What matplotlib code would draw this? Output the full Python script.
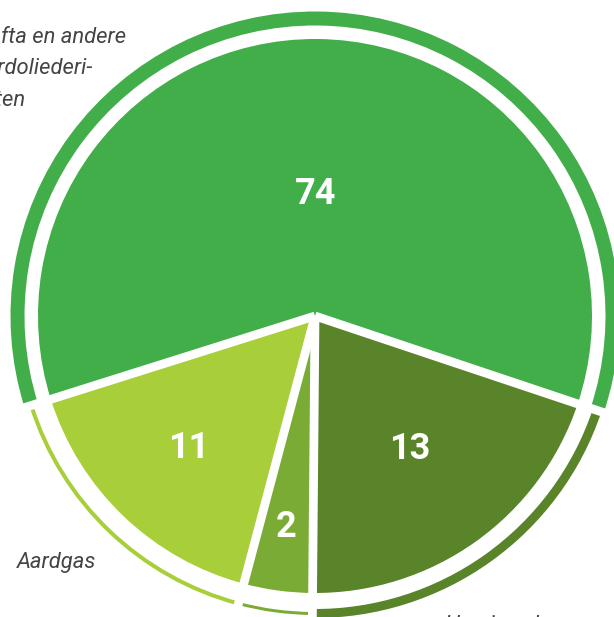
import numpy as np
import matplotlib
matplotlib.use("Agg")
import matplotlib.pyplot as plt
from matplotlib.patches import Wedge

# Gegevens (volgorde tegen de klok in, vanaf rechts)
categorieen = ["Nafta en andere aardoliederivaten", "Aardgas", "Overige", "Hernieuwbare energie"]
waarden = [74, 11, 2, 13]
aandeel_hoek = [60, 16, 4, 20]   # geschatte hoekverdeling zoals getekend

kleuren = ["#41ae4a", "#a8ce39", "#7aab35", "#5a8429"]
ring_breedte = [14, 4, 3, 9]
label_afstand = [0.44, 0.66, 0.77, 0.59]

W, H = 614, 617
fig = plt.figure(figsize=(W / 100, H / 100), dpi=100)
ax = fig.add_axes([0, 0, 1, 1])

cx, cy = 315, H - 316
R = 277
R_ring = 297.5

wedges, _ = ax.pie(aandeel_hoek, colors=kleuren, startangle=-18.5, counterclock=True,
                   radius=R, center=(cx, cy), wedgeprops=dict(linewidth=0))

# buitenring per segment
for w, kleur, b in zip(wedges, kleuren, ring_breedte):
    ax.add_patch(Wedge((cx, cy), R_ring + b / 2, w.theta1, w.theta2, width=b,
                       facecolor=kleur, edgecolor="none"))

# witte scheidingslijnen
for w in wedges:
    t = np.deg2rad(w.theta1)
    ax.plot([cx, cx + 315 * np.cos(t)], [cy, cy + 315 * np.sin(t)],
            color="white", lw=6.3, solid_capstyle="butt", zorder=5)

# getallen in de segmenten
for w, v, d in zip(wedges, waarden, label_afstand):
    t = np.deg2rad((w.theta1 + w.theta2) / 2)
    ax.text(cx + d * R * np.cos(t), cy + d * R * np.sin(t), str(v),
            color="white", fontsize=26, fontweight="bold", family="Roboto",
            ha="center", va="center", zorder=6)

# labels
tekstkleur = "#444444"
for i, regel in enumerate(["Nafta en andere", "aardoliederi-", "vaten"]):
    ax.text(-26, H - 43 - 31.5 * i, regel, fontsize=15.8, style="italic",
            family="Roboto", color=tekstkleur, ha="left", va="baseline")
ax.text(17, H - 568, "Aardgas", fontsize=15.8, style="italic", family="Roboto",
        color=tekstkleur, ha="left", va="baseline")
ax.text(444, H - 631, "Hernieuwbare", fontsize=15.8, style="italic", family="Roboto",
        color=tekstkleur, ha="left", va="baseline", clip_on=False)

ax.set_xlim(0, W)
ax.set_ylim(0, H)
ax.set_aspect("equal")
ax.axis("off")

fig.savefig("out.png", dpi=100)
